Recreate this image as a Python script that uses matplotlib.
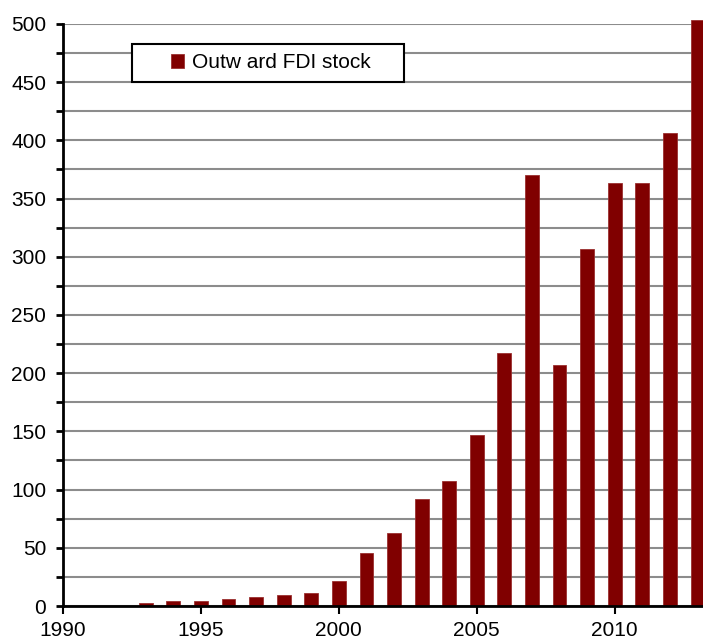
import matplotlib
matplotlib.use('Agg')
import matplotlib.pyplot as plt
from matplotlib.ticker import MultipleLocator
from matplotlib.patches import Rectangle

plt.rcParams['font.family'] = ['Liberation Sans', 'DejaVu Sans']

# Outward FDI stock by year
years = [1993, 1994, 1995, 1996, 1997, 1998, 1999, 2000, 2001, 2002, 2003,
         2004, 2005, 2006, 2007, 2008, 2009, 2010, 2011, 2012, 2013]
stock = [3, 4, 4, 6, 8, 9.5, 11, 21.5, 45.5, 63, 92,
         107, 147, 217, 370, 207, 307, 363, 363, 406, 503]

fig = plt.figure(figsize=(7.03, 6.39), dpi=100)
ax = fig.add_axes([0.0896, 0.0516, 0.9104, 0.911])

ax.bar(years, stock, width=0.5, color='#800000', edgecolor='#9a3030',
       linewidth=0.6, label='Outw ard FDI stock', zorder=3, clip_on=False)

ax.set_xlim(1990, 2013.2)
ax.set_ylim(0, 500)
ax.xaxis.set_major_locator(MultipleLocator(5))
ax.yaxis.set_major_locator(MultipleLocator(50))
ax.yaxis.set_minor_locator(MultipleLocator(25))
ax.grid(True, which='both', axis='y', color='#8c8c8c', linewidth=1.5, zorder=0)

for s in ['top', 'right']:
    ax.spines[s].set_visible(False)
for s in ['left', 'bottom']:
    ax.spines[s].set_linewidth(2)
    ax.spines[s].set_zorder(4)

ax.tick_params(axis='both', which='both', direction='out', length=5,
               labelsize=15, colors='black')
ax.tick_params(axis='y', which='both', width=2, pad=7)
ax.tick_params(axis='x', width=1.5, length=6, pad=5)

# legend frame drawn by hand so the padding matches
box = Rectangle((0.1078, 0.9003), 0.425, 0.0653, transform=ax.transAxes,
                facecolor='white', edgecolor='black', linewidth=1.5,
                zorder=5, clip_on=False)
ax.add_patch(box)
leg = ax.legend(loc='center left', bbox_to_anchor=(0.1688, 0.933), fontsize=15,
                frameon=False, handlelength=0.62, handleheight=0.62,
                borderpad=0, handletextpad=0.4, borderaxespad=0)
leg.set_zorder(6)

fig.savefig('out.png', dpi=100)
